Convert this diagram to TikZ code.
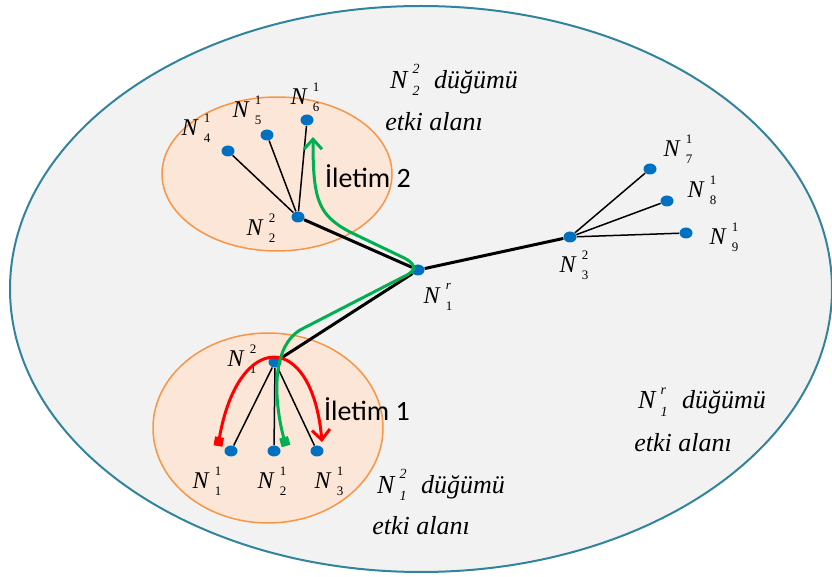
\documentclass[tikz,border=0pt]{standalone}
\usepackage{fontspec}
\setmainfont{Liberation Serif}[ItalicFont={Liberation Serif Italic}]
\newfontfamily\calibri{Carlito}
\usetikzlibrary{shapes.geometric,arrows.meta}
\usepackage{xcolor}

\definecolor{ringblue}{HTML}{31849B}
\definecolor{areagray}{HTML}{F2F2F2}
\definecolor{peach}{HTML}{FCE6D8}
\definecolor{ringorange}{HTML}{F79646}
\definecolor{dotblue}{HTML}{0070C0}
\definecolor{routegreen}{HTML}{00B050}
\definecolor{routered}{HTML}{FF0000}

\newcommand{\scsz}{6}
\newcommand{\subsz}{\fontsize{\scsz}{\scsz}\selectfont}
\newcommand{\nlab}[3]{\textit{#1}\kern2.5pt\rlap{\raisebox{0.56em}{\subsz #3}}\raisebox{-0.28em}{\subsz #2}\kern1pt}

\begin{document}
\begin{tikzpicture}[
    x=0.5pt, y=-0.5pt,
    dot/.style={ellipse, fill=dotblue, inner sep=0pt, minimum width=6.5pt, minimum height=5.5pt},
    lbl/.style={inner sep=0pt, font=\renewcommand{\scsz}{6.5}\fontsize{12}{12}\selectfont},
    area/.style={inner sep=0pt, font=\renewcommand{\scsz}{7}\fontsize{13}{14}\selectfont\itshape},
    iletim/.style={inner sep=0pt, font=\calibri\fontsize{14}{16}\selectfont},
    leaf/.style={line width=0.75pt},
    trunk/.style={line width=1.5pt},
    route/.style={line width=1.5pt,
        {Square[length=4.5pt,width=4.5pt]}-{Straight Barb[length=5pt,width=9pt]}}
]
    \useasboundingbox (0,0) rectangle (832,577);

    % Influence areas
    \draw[ringblue, line width=1pt, fill=areagray] (421,289) ellipse [x radius=411, y radius=283];
    \draw[ringorange, line width=0.75pt, fill=peach] (277,174) ellipse [x radius=115, y radius=77];
    \draw[ringorange, line width=0.75pt, fill=peach] (268,428) ellipse [x radius=115, y radius=95];

    % Root vertex
    \node[dot] (r) at (418,270) {};

    % Second level vertices
    \node[dot] (b1) at (275,362) {};
    \node[dot] (b2) at (298,217) {};
    \node[dot] (b3) at (570,237) {};

    % First level vertices
    \node[dot] (a1) at (231,451) {};
    \node[dot] (a2) at (274,451) {};
    \node[dot] (a3) at (317,451) {};
    \node[dot] (a4) at (228,151) {};
    \node[dot] (a5) at (267,135) {};
    \node[dot] (a6) at (307,120) {};
    \node[dot] (a7) at (650,169) {};
    \node[dot] (a8) at (667,201) {};
    \node[dot] (a9) at (686,233) {};

    % Vertex labels
    \node[lbl] (lr) at (439,297) {\nlab{N}{1}{\textit{r}}};
    \node[lbl] (lb1) at (243,359) {\nlab{N}{1}{2}};
    \node[lbl] (lb2) at (262,228) {\nlab{N}{2}{2}};
    \node[lbl] (lb3) at (575,265) {\nlab{N}{3}{2}};
    \node[lbl] (l1) at (208,481) {\nlab{N}{1}{1}};
    \node[lbl] (l2) at (273,481) {\nlab{N}{2}{1}};
    \node[lbl] (l3) at (330,481) {\nlab{N}{3}{1}};
    \node[lbl] (l4) at (197,128) {\nlab{N}{4}{1}};
    \node[lbl] (l5) at (248,110) {\nlab{N}{5}{1}};
    \node[lbl] (l6) at (306,97) {\nlab{N}{6}{1}};
    \node[lbl] (l7) at (679,149) {\nlab{N}{7}{1}};
    \node[lbl] (l8) at (703,190) {\nlab{N}{8}{1}};
    \node[lbl] (l9) at (725,237) {\nlab{N}{9}{1}};

    % Area captions
    \node[area] (t2a) at (454,80) {\nlab{N}{2}{2}\hspace{3pt} düğümü};
    \node[area] (t2b) at (434,122) {etki alanı};
    \node[area] (tra) at (702,402) {\nlab{N}{1}{\textit{r}}\hspace{3pt} düğümü};
    \node[area] (trb) at (683,443) {etki alanı};
    \node[area] (t1a) at (441,485) {\nlab{N}{1}{2}\hspace{3pt} düğümü};
    \node[area] (t1b) at (421,526) {etki alanı};

    % Transmission captions
    \node[iletim] (i2) at (368,176) {İletim 2};
    \node[iletim] (i1) at (367,409) {İletim 1};

    % Connect root to second level
    \draw[trunk] (r) -- (b1);
    \draw[trunk] (r) -- (b2);
    \draw[trunk] (r) -- (b3);

    % Connect second level to first level
    \draw[leaf] (b1) -- (a1);
    \draw[leaf] (b1) -- (a2);
    \draw[leaf] (b1) -- (a3);
    \draw[leaf] (b2) -- (a4);
    \draw[leaf] (b2) -- (a5);
    \draw[leaf] (b2) -- (a6);
    \draw[leaf] (b3) -- (a7);
    \draw[leaf] (b3) -- (a8);
    \draw[leaf] (b3) -- (a9);

    % Transmission routes
    \coordinate (s1) at (218,446);
    \coordinate (e1) at (322,442);
    \coordinate (s2) at (286,446);
    \coordinate (e2) at (313,137);
    \draw[route, routered] (s1) .. controls (238,330) and (312,330) .. (e1);
    \draw[route, routegreen] (s2) .. controls (276,410) and (268,350) .. (300,330)
        -- (403,277) .. controls (419,270) and (416,263) .. (400,256)
        -- (350,232) .. controls (318,215) and (313,200) .. (e2);
\end{tikzpicture}
\end{document}
